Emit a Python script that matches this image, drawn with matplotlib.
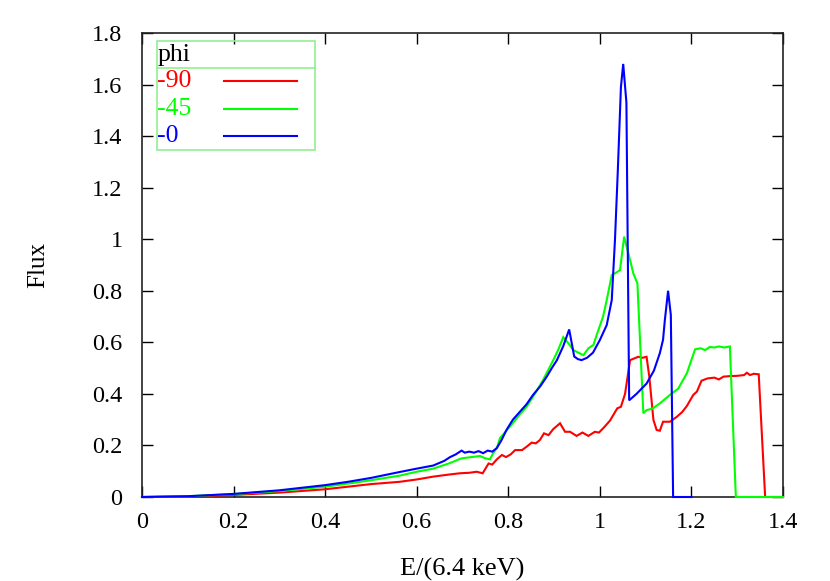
import matplotlib
matplotlib.use("Agg")
import matplotlib.pyplot as plt
from matplotlib.patches import Rectangle

# ---- data ----
x_phi0 = [0, 0.1, 0.2, 0.3, 0.4, 0.45, 0.5, 0.563, 0.6, 0.636, 0.66, 0.673, 0.685, 0.698,
          0.705, 0.715, 0.725, 0.735, 0.745, 0.755, 0.765, 0.775, 0.785, 0.796, 0.81, 0.825,
          0.84, 0.854, 0.87, 0.884, 0.895, 0.906, 0.92, 0.933, 0.944, 0.952, 0.96, 0.972,
          0.985, 1.0, 1.015, 1.026, 1.033, 1.039, 1.046, 1.051, 1.058, 1.064, 1.08, 1.102,
          1.118, 1.131, 1.138, 1.142, 1.149, 1.155, 1.160, 1.2]
y_phi0 = [0, 0.003, 0.012, 0.026, 0.046, 0.059, 0.074, 0.097, 0.11, 0.122, 0.14, 0.155, 0.165, 0.18,
          0.172, 0.176, 0.172, 0.178, 0.17, 0.18, 0.176, 0.19, 0.22, 0.26, 0.3, 0.33,
          0.36, 0.396, 0.43, 0.467, 0.5, 0.53, 0.585, 0.65, 0.545, 0.535, 0.531, 0.54,
          0.56, 0.609, 0.667, 0.764, 0.997, 1.256, 1.59, 1.68, 1.53, 0.375, 0.40, 0.44,
          0.49, 0.558, 0.61, 0.687, 0.80, 0.706, 0, 0]

x_phi45 = [0, 0.1, 0.2, 0.3, 0.4, 0.45, 0.5, 0.563, 0.6, 0.636, 0.67, 0.698, 0.72, 0.738,
           0.75, 0.76, 0.767, 0.775, 0.782, 0.795, 0.81, 0.825, 0.84, 0.858, 0.876, 0.898,
           0.91, 0.92, 0.931, 0.942, 0.953, 0.964, 0.975, 0.986, 0.993, 1.007, 1.015, 1.026,
           1.035, 1.044, 1.053, 1.066, 1.073, 1.082, 1.095, 1.102, 1.115, 1.131, 1.153, 1.171,
           1.19, 1.208, 1.22, 1.23, 1.24, 1.25, 1.26, 1.272, 1.284, 1.297, 1.4]
y_phi45 = [0, 0.003, 0.011, 0.023, 0.04, 0.052, 0.065, 0.083, 0.098, 0.11, 0.13, 0.15, 0.155, 0.159,
           0.15, 0.146, 0.17, 0.19, 0.229, 0.255, 0.287, 0.32, 0.35, 0.4, 0.454, 0.53,
           0.575, 0.62, 0.597, 0.57, 0.56, 0.55, 0.577, 0.59, 0.628, 0.70, 0.764, 0.861,
           0.87, 0.88, 1.01, 0.919, 0.868, 0.829, 0.325, 0.337, 0.343, 0.363, 0.396, 0.42,
           0.48, 0.573, 0.577, 0.57, 0.582, 0.58, 0.584, 0.58, 0.584, 0, 0]

x_phi90 = [0, 0.1, 0.2, 0.3, 0.4, 0.45, 0.5, 0.563, 0.6, 0.636, 0.67, 0.694, 0.715, 0.731,
           0.744, 0.757, 0.765, 0.775, 0.786, 0.795, 0.805, 0.815, 0.83, 0.84, 0.851, 0.86,
           0.869, 0.878, 0.888, 0.898, 0.913, 0.924, 0.935, 0.949, 0.962, 0.975, 0.989, 0.998,
           1.009, 1.022, 1.038, 1.046, 1.055, 1.066, 1.084, 1.093, 1.102, 1.108, 1.117, 1.124,
           1.131, 1.138, 1.153, 1.168, 1.18, 1.19, 1.204, 1.212, 1.222, 1.235, 1.25, 1.26,
           1.27, 1.285, 1.3, 1.315, 1.321, 1.328, 1.336, 1.347, 1.361, 1.4]
y_phi90 = [0, 0.002, 0.008, 0.017, 0.03, 0.04, 0.05, 0.059, 0.068, 0.079, 0.087, 0.092, 0.094, 0.098,
           0.092, 0.13, 0.126, 0.146, 0.163, 0.155, 0.165, 0.182, 0.182, 0.195, 0.211, 0.208,
           0.221, 0.247, 0.24, 0.263, 0.286, 0.253, 0.253, 0.237, 0.25, 0.237, 0.253, 0.25,
           0.27, 0.296, 0.344, 0.35, 0.40, 0.531, 0.544, 0.54, 0.544, 0.467, 0.299, 0.26,
           0.257, 0.292, 0.292, 0.311, 0.33, 0.353, 0.396, 0.409, 0.451, 0.46, 0.463, 0.456,
           0.467, 0.469, 0.47, 0.473, 0.482, 0.473, 0.478, 0.476, 0, 0]

labels = ["-90", "-45", "-0"]
colors = ["#ff0000", "#00ff00", "#0000ff"]
legend_title = "phi"
x_ticks = [0, 0.2, 0.4, 0.6, 0.8, 1.0, 1.2, 1.4]
x_ticklabels = ["0", "0.2", "0.4", "0.6", "0.8", "1", "1.2", "1.4"]
y_ticks = [0, 0.2, 0.4, 0.6, 0.8, 1.0, 1.2, 1.4, 1.6, 1.8]
y_ticklabels = ["0", "0.2", "0.4", "0.6", "0.8", "1", "1.2", "1.4", "1.6", "1.8"]

plt.rcParams['font.family'] = ['Liberation Serif', 'DejaVu Serif']
FS = 17.5

fig = plt.figure(figsize=(8.30, 5.81), dpi=100)
ax = fig.add_axes([142/830, 1 - 497/581, 641/830, 464/581])

series = [(x_phi90, y_phi90), (x_phi45, y_phi45), (x_phi0, y_phi0)]
for (xs, ys), c in zip(series, colors):
    ax.plot(xs, ys, color=c, lw=1.5, solid_joinstyle='miter', clip_on=False, zorder=3)

ax.set_xlim(0, 1.4)
ax.set_ylim(0, 1.8)
ax.set_xticks(x_ticks)
ax.set_xticklabels(x_ticklabels)
ax.set_yticks(y_ticks)
ax.set_yticklabels(y_ticklabels)
ax.tick_params(direction='in', top=True, right=True, length=8, width=1.0,
               labelsize=FS, color='black')
ax.tick_params(axis='x', pad=11)
ax.tick_params(axis='y', pad=14)
for s in ax.spines.values():
    s.set_linewidth(1.2)
    s.set_color('#222222')

ax.set_xlabel("E/(6.4 keV)", fontsize=19, labelpad=18)
ax.set_ylabel("Flux", fontsize=18, labelpad=31)

# legend box (gnuplot style)
lg_col = '#90f090'
ax.add_patch(Rectangle((0.0234, 0.748), 0.2465, 0.235, transform=ax.transAxes,
                       fill=False, edgecolor=lg_col, lw=1.2, zorder=5, clip_on=False))
ax.plot([0.0234, 0.27], [0.925, 0.925], transform=ax.transAxes, color=lg_col, lw=1.2,
        zorder=5, clip_on=False)
ax.text(0.025, 0.953, legend_title, transform=ax.transAxes, fontsize=18.5,
        ha='left', va='center', color='black')
row_y = [0.896, 0.837, 0.777]
for lab, c, ry in zip(labels, colors, row_y):
    ax.text(0.024, ry, lab, transform=ax.transAxes, fontsize=18.5,
            ha='left', va='center', color=c)
    ax.plot([0.128, 0.242], [ry, ry], transform=ax.transAxes, color=c, lw=1.5,
            zorder=5, clip_on=False)

fig.savefig("out.png", dpi=100)
